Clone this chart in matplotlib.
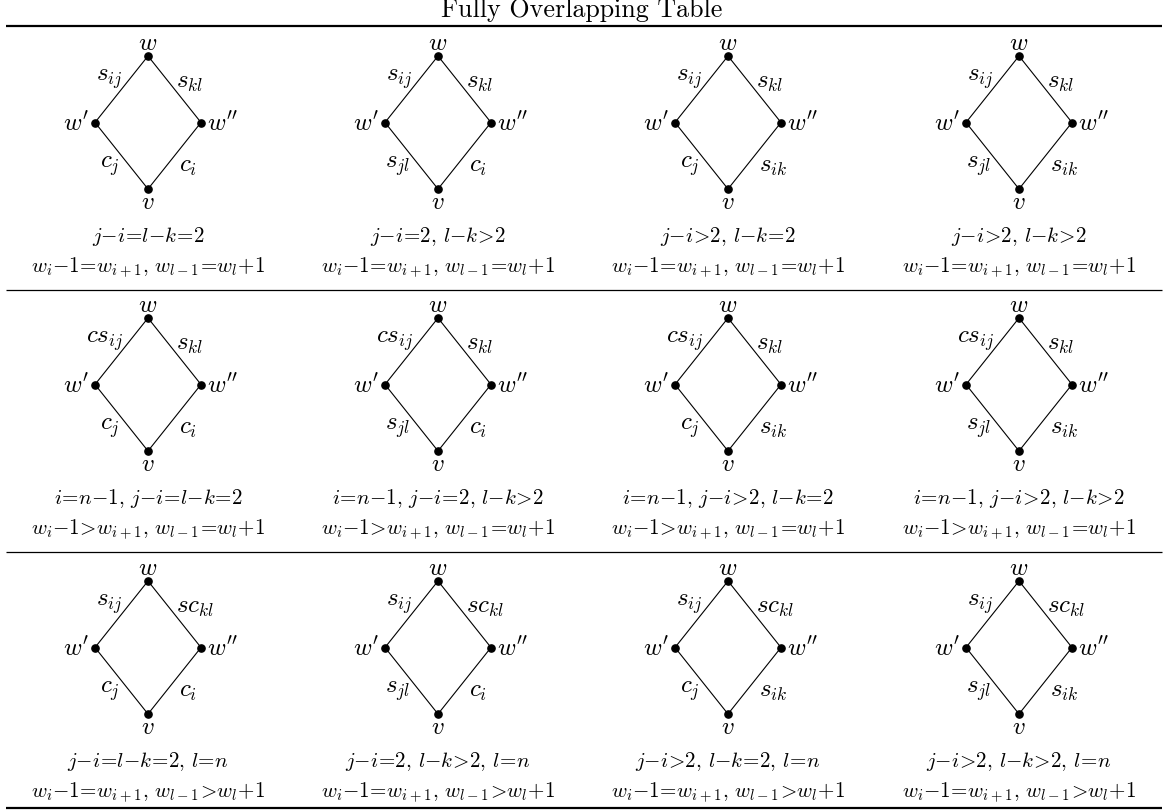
import matplotlib
matplotlib.use("Agg")
import matplotlib.pyplot as plt

plt.rcParams["mathtext.fontset"] = "cm"

# -------------------------------
# Contenido de la tabla (3 filas x 4 columnas)
# -------------------------------
titulo = "Fully Overlapping Table"

etiq_sup_izq = [
    ["s_{ij}", "s_{ij}", "s_{ij}", "s_{ij}"],
    ["cs_{ij}", "cs_{ij}", "cs_{ij}", "cs_{ij}"],
    ["s_{ij}", "s_{ij}", "s_{ij}", "s_{ij}"],
]
etiq_sup_der = [
    ["s_{kl}", "s_{kl}", "s_{kl}", "s_{kl}"],
    ["s_{kl}", "s_{kl}", "s_{kl}", "s_{kl}"],
    ["sc_{kl}", "sc_{kl}", "sc_{kl}", "sc_{kl}"],
]
etiq_inf_izq = [
    ["c_j", "s_{jl}", "c_j", "s_{jl}"],
    ["c_j", "s_{jl}", "c_j", "s_{jl}"],
    ["c_j", "s_{jl}", "c_j", "s_{jl}"],
]
etiq_inf_der = [
    ["c_i", "c_i", "s_{ik}", "s_{ik}"],
    ["c_i", "c_i", "s_{ik}", "s_{ik}"],
    ["c_i", "c_i", "s_{ik}", "s_{ik}"],
]

EQ = r"\!=\!"
GT = r"\!>\!"
CM = r",\,"

cond_1 = [
    [f"j{{-}}i{EQ}l{{-}}k{EQ}2",
     f"j{{-}}i{EQ}2{CM}l{{-}}k{GT}2",
     f"j{{-}}i{GT}2{CM}l{{-}}k{EQ}2",
     f"j{{-}}i{GT}2{CM}l{{-}}k{GT}2"],
    [f"i{EQ}n{{-}}1{CM}j{{-}}i{EQ}l{{-}}k{EQ}2",
     f"i{EQ}n{{-}}1{CM}j{{-}}i{EQ}2{CM}l{{-}}k{GT}2",
     f"i{EQ}n{{-}}1{CM}j{{-}}i{GT}2{CM}l{{-}}k{EQ}2",
     f"i{EQ}n{{-}}1{CM}j{{-}}i{GT}2{CM}l{{-}}k{GT}2"],
    [f"j{{-}}i{EQ}l{{-}}k{EQ}2{CM}l{EQ}n",
     f"j{{-}}i{EQ}2{CM}l{{-}}k{GT}2{CM}l{EQ}n",
     f"j{{-}}i{GT}2{CM}l{{-}}k{EQ}2{CM}l{EQ}n",
     f"j{{-}}i{GT}2{CM}l{{-}}k{GT}2{CM}l{EQ}n"],
]
cond_2_fila = [
    f"w_i{{-}}1{EQ}w_{{i+1}}{CM}w_{{l-1}}{EQ}w_l{{+}}1",
    f"w_i{{-}}1{GT}w_{{i+1}}{CM}w_{{l-1}}{EQ}w_l{{+}}1",
    f"w_i{{-}}1{EQ}w_{{i+1}}{CM}w_{{l-1}}{GT}w_l{{+}}1",
]

# -------------------------------
# Geometria (pixeles)
# -------------------------------
W, H = 1164, 812
col_x = [148, 438, 728, 1019]
fila_top = [57, 319, 582]      # nodo superior de cada rombo
dx, dy = 53, 66.5              # semiancho / semialto del rombo
lineas_sep = [291, 553]
x0, x1 = 6, 1162

fig = plt.figure(figsize=(W / 100, H / 100), dpi=100)
ax = fig.add_axes([0, 0, 1, 1])
ax.set_xlim(0, W)
ax.set_ylim(H, 0)
ax.axis("off")
rend = fig.canvas.get_renderer()


def ajustar(texto, ancho, **kw):
    # tamaño de letra para que el texto ocupe 'ancho' pixeles
    t = ax.text(0, 0, texto, fontsize=10, **kw)
    bb = t.get_window_extent(rend)
    t.remove()
    return 10 * ancho / bb.width


fs_titulo = ajustar(titulo, 282, family="cmr10")
fs_cond = ajustar(f"${cond_2_fila[2]}$", 235)
fs_nodo = 18
fs_arista = 18

# titulo y reglas
ax.text(W / 2, 10, titulo, ha="center", va="center", fontsize=fs_titulo, family="cmr10")
ax.plot([x0, x1], [27, 27], color="black", lw=1.6, solid_capstyle="butt")
for y in lineas_sep:
    ax.plot([x0, x1], [y, y], color="black", lw=0.9, solid_capstyle="butt")
ax.plot([x0, x1], [809, 809], color="black", lw=1.6, solid_capstyle="butt")

for r in range(3):
    for c in range(4):
        cx = col_x[c]
        yt = fila_top[r]
        ym = yt + dy
        yb = yt + 2 * dy
        xs = [cx, cx - dx, cx, cx + dx, cx]
        ys = [yt, ym, yb, ym, yt]
        ax.plot(xs, ys, color="black", lw=0.8, zorder=2)
        ax.plot(xs[:4], ys[:4], "o", color="black", ms=5.2, zorder=3)

        # nodos
        ax.text(cx, yt - 14, "$w$", ha="center", va="center", fontsize=fs_nodo)
        ax.text(cx - dx - 6, ym, "$w'$", ha="right", va="center", fontsize=fs_nodo)
        ax.text(cx + dx + 6, ym, "$w''$", ha="left", va="center", fontsize=fs_nodo)
        ax.text(cx, yb + 12, "$v$", ha="center", va="center", fontsize=fs_nodo)

        # aristas
        ax.text(cx - 25, yt + 22, f"${etiq_sup_izq[r][c]}$", ha="right", va="center", fontsize=fs_arista)
        ax.text(cx + 28, yt + 25, f"${etiq_sup_der[r][c]}$", ha="left", va="center", fontsize=fs_arista)
        ax.text(cx - 28, yt + 109, f"${etiq_inf_izq[r][c]}$", ha="right", va="center", fontsize=fs_arista)
        ax.text(cx + 31, yt + 109, f"${etiq_inf_der[r][c]}$", ha="left", va="center", fontsize=fs_arista)

        # condiciones
        ax.text(cx, yb + 47, f"${cond_1[r][c]}$", ha="center", va="center", fontsize=fs_cond)
        ax.text(cx, yb + 78, f"${cond_2_fila[r]}$", ha="center", va="center", fontsize=fs_cond)

fig.savefig("out.png", dpi=100)
